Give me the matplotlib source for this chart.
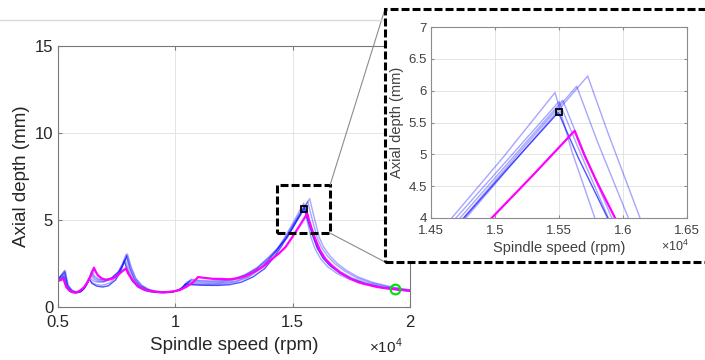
import matplotlib.pyplot as plt
from matplotlib.patches import Rectangle, ConnectionPatch
from matplotlib.lines import Line2D

plt.rcParams['font.family'] = ['Liberation Sans', 'DejaVu Sans']
plt.rcParams['mathtext.fontset'] = 'custom'
plt.rcParams['mathtext.rm'] = 'Liberation Sans'

# stability lobes, speed in rpm, depth in mm
# darker (nominal) blue curve
b0_speed = [5000, 5240, 5370, 5550, 5750, 5950, 6100, 6250, 6330, 6450, 6650, 6900, 7150, 7450, 7650,
            7820, 7960, 8150, 8400, 8700, 9000, 9400, 9800, 10100, 10300, 10430, 10700, 11200, 11800,
            12300, 12800, 13300, 13800, 14200, 14500, 14757, 15100, 15495, 15650, 15880, 16050, 16300,
            16600, 17000, 17500, 18100, 18800, 19500, 20000]
b0_depth = [1.45, 1.75, 1.12, 0.87, 0.80, 0.86, 1.05, 1.38, 1.62, 1.35, 1.20, 1.15, 1.22, 1.55, 1.98,
            2.65, 2.10, 1.52, 1.15, 0.95, 0.86, 0.82, 0.84, 0.95, 1.12, 1.32, 1.28, 1.25, 1.24,
            1.28, 1.42, 1.72, 2.20, 2.85, 3.45, 4.00, 4.78, 5.66, 4.95, 4.00, 3.38, 2.80,
            2.36, 1.96, 1.61, 1.33, 1.12, 0.99, 0.92]

b1_speed = [5000, 5270, 5400, 5550, 5750, 5950, 6100, 6250, 6350, 6500, 6700, 6950, 7250, 7550, 7750,
            7900, 8050, 8250, 8500, 8800, 9100, 9500, 9900, 10200, 10350, 10500, 10800, 11100, 11600,
            12100, 12600, 13100, 13600, 14000, 14300, 14662, 15050, 15469, 15600, 15780, 15950, 16200,
            16500, 16900, 17400, 18000, 18700, 19400, 20000]
b1_depth = [1.55, 2.08, 1.25, 0.95, 0.82, 0.88, 1.05, 1.35, 1.72, 1.50, 1.42, 1.45, 1.62, 2.00, 2.50,
            3.03, 2.25, 1.60, 1.22, 1.00, 0.88, 0.83, 0.87, 1.02, 1.20, 1.45, 1.36, 1.33, 1.33,
            1.38, 1.50, 1.75, 2.20, 2.75, 3.25, 4.00, 4.92, 5.97, 5.05, 4.00, 3.35, 2.75,
            2.30, 1.92, 1.60, 1.33, 1.13, 1.00, 0.92]

b2_speed = [5000, 5250, 5380, 5550, 5750, 5950, 6100, 6220, 6300, 6450, 6650, 6900, 7200, 7500, 7700,
            7860, 8000, 8200, 8450, 8750, 9050, 9450, 9850, 10150, 10300, 10450, 10700, 11100, 11600,
            12100, 12600, 13100, 13600, 14000, 14300, 14695, 15100, 15500, 15650, 15886, 16050, 16300,
            16600, 17000, 17500, 18100, 18800, 19500, 20000]
b2_depth = [1.50, 1.85, 1.15, 0.90, 0.83, 0.90, 1.10, 1.40, 1.65, 1.40, 1.28, 1.25, 1.38, 1.75, 2.20,
            2.75, 2.15, 1.55, 1.18, 0.98, 0.88, 0.83, 0.86, 0.98, 1.12, 1.35, 1.30, 1.27, 1.27,
            1.32, 1.45, 1.70, 2.15, 2.70, 3.20, 4.00, 4.92, 5.83, 5.10, 4.00, 3.40, 2.82,
            2.38, 1.98, 1.63, 1.35, 1.14, 1.00, 0.93]

b3_speed = [5000, 5280, 5400, 5570, 5770, 5970, 6120, 6280, 6400, 6520, 6700, 6950, 7250, 7550, 7750,
            7920, 8060, 8260, 8500, 8800, 9100, 9500, 9900, 10200, 10400, 10580, 10900, 11400, 11900,
            12400, 12900, 13400, 13900, 14300, 14727, 15130, 15529, 15680, 15912, 16080, 16350,
            16650, 17050, 17550, 18150, 18850, 19550, 20000]
b3_depth = [1.58, 1.95, 1.20, 0.92, 0.84, 0.90, 1.08, 1.45, 1.90, 1.62, 1.48, 1.45, 1.58, 1.90, 2.35,
            2.90, 2.20, 1.58, 1.20, 0.98, 0.88, 0.84, 0.87, 1.00, 1.20, 1.50, 1.42, 1.38, 1.40,
            1.52, 1.75, 2.12, 2.65, 3.20, 4.00, 4.93, 5.85, 5.10, 4.00, 3.42, 2.85,
            2.42, 2.02, 1.66, 1.38, 1.16, 1.01, 0.95]

b4_speed = [5000, 5300, 5420, 5600, 5800, 6000, 6150, 6300, 6420, 6540, 6720, 6980, 7280, 7580, 7780,
            7950, 8100, 8300, 8550, 8850, 9150, 9550, 9950, 10250, 10450, 10650, 11000, 11500, 12000,
            12500, 13000, 13500, 14000, 14350, 14752, 15200, 15638, 15800, 16042, 16220, 16500,
            16800, 17200, 17700, 18300, 19000, 19600, 20000]
b4_depth = [1.60, 2.00, 1.22, 0.93, 0.85, 0.92, 1.12, 1.50, 2.00, 1.70, 1.55, 1.52, 1.65, 2.00, 2.45,
            2.95, 2.25, 1.62, 1.23, 1.00, 0.90, 0.85, 0.89, 1.03, 1.25, 1.55, 1.48, 1.45, 1.48,
            1.60, 1.85, 2.25, 2.85, 3.35, 4.00, 5.05, 6.07, 5.20, 4.00, 3.45, 2.90,
            2.48, 2.08, 1.70, 1.40, 1.18, 1.04, 0.97]

b5_speed = [5000, 5310, 5430, 5620, 5820, 6020, 6170, 6320, 6440, 6560, 6740, 7000, 7300, 7600, 7800,
            7960, 8120, 8320, 8570, 8870, 9170, 9570, 9970, 10270, 10470, 10680, 11000, 11500, 12000,
            12500, 13000, 13500, 14000, 14380, 14773, 15250, 15724, 15880, 16133, 16320, 16600,
            16900, 17300, 17800, 18400, 19100, 19700, 20000]
b5_depth = [1.62, 2.10, 1.25, 0.95, 0.86, 0.93, 1.15, 1.55, 2.10, 1.78, 1.60, 1.56, 1.70, 2.05, 2.55,
            3.05, 2.30, 1.65, 1.25, 1.02, 0.91, 0.86, 0.90, 1.05, 1.28, 1.60, 1.53, 1.50, 1.52,
            1.63, 1.88, 2.28, 2.90, 3.40, 4.00, 5.12, 6.23, 5.35, 4.00, 3.45, 2.92,
            2.50, 2.10, 1.72, 1.42, 1.19, 1.05, 0.99]

# magenta curve
mag_speed = [5000, 5120, 5230, 5350, 5500, 5650, 5800, 5950, 6100, 6250, 6400, 6530, 6600, 6700, 6850,
             7000, 7100, 7300, 7500, 7650, 7890, 8000, 8200, 8400, 8600, 8800, 9000, 9300, 9500, 9700,
             10000, 10200, 10480, 10770, 10970, 11200, 11600, 12000, 12320, 12700, 13000, 13300,
             13740, 14000, 14450, 14700, 14974, 15300, 15622, 15700, 15800, 15938, 16150, 16400,
             16720, 17000, 17430, 17800, 18140, 18600, 19000, 19340, 19700, 20000]
mag_depth = [1.50, 1.55, 1.62, 1.15, 0.92, 0.84, 0.85, 0.95, 1.12, 1.40, 1.80, 2.26, 2.05, 1.82, 1.65,
             1.58, 1.57, 1.63, 1.78, 1.95, 2.22, 1.90, 1.50, 1.22, 1.05, 0.95, 0.90, 0.86, 0.85, 0.86,
             0.92, 0.98, 1.17, 1.43, 1.72, 1.68, 1.62, 1.61, 1.59, 1.66, 1.78, 1.98,
             2.32, 2.62, 3.12, 3.45, 4.00, 4.68, 5.37, 4.98, 4.55, 4.00, 3.30, 2.75,
             2.32, 2.00, 1.65, 1.42, 1.30, 1.15, 1.07, 1.02, 0.97, 0.93]

blue_light = [(b1_speed, b1_depth), (b2_speed, b2_depth), (b3_speed, b3_depth),
              (b4_speed, b4_depth), (b5_speed, b5_depth)]

square_speed = [15500]
square_depth = [5.66]
circle_speed = [19340]
circle_depth = [1.02]

zoom_speed = [1.433, 1.660]   # x 1e4 rpm
zoom_depth = [4.24, 7.03]


def draw_curves(a, lw_blue, lw_mag):
    for sp, d in blue_light:
        a.plot([s / 1e4 for s in sp], d, color='#0000ff', alpha=0.35, lw=lw_blue)
    a.plot([s / 1e4 for s in b0_speed], b0_depth, color='#1a1aff', alpha=0.75, lw=lw_blue)
    a.plot([s / 1e4 for s in mag_speed], mag_depth, color='#ff00ff', lw=lw_mag)


fig = plt.figure(figsize=(7.05, 3.6), dpi=100)

# faint rule at top of the page
fig.add_artist(Line2D([0, 385 / 705], [1 - 20 / 360, 1 - 20 / 360], color='#d9d9d9', lw=1.0,
                      transform=fig.transFigure))

ax = fig.add_axes([58 / 705, 1 - 307 / 360, 352 / 705, 261 / 360])
draw_curves(ax, 1.0, 1.6)
ax.plot([s / 1e4 for s in circle_speed], circle_depth, 'o', mfc='none', mec='#00e000', ms=7, mew=1.5)
ax.plot([s / 1e4 for s in square_speed], square_depth, 's', mfc='none', mec='k', ms=5, mew=1.3)
ax.set_xlim(0.5, 2.0)
ax.set_ylim(0, 15)
ax.set_xticks([0.5, 1, 1.5, 2])
ax.set_xticklabels(['0.5', '1', '1.5', '2'])
ax.set_yticks([0, 5, 10, 15])
ax.grid(True, color='#e4e4e4', lw=0.7)
ax.tick_params(direction='in', top=True, right=True, length=3, color='#7a7a7a',
               labelcolor='#262626', labelsize=12)
ax.tick_params(axis='x', pad=6)
for s in ax.spines.values():
    s.set_color('#7a7a7a')
    s.set_linewidth(0.8)
ax.set_xlabel('Spindle speed (rpm)', fontsize=13.5, color='#262626', labelpad=5)
ax.set_ylabel('Axial depth (mm)', fontsize=13.5, color='#262626', labelpad=3)
fig.text(386 / 705, 1 - 346 / 360, r'$\times10^{4}$', fontsize=11, color='#262626',
         ha='center', va='center')

ax.add_patch(Rectangle((zoom_speed[0], zoom_depth[0]), zoom_speed[1] - zoom_speed[0],
                       zoom_depth[1] - zoom_depth[0], fill=False, ec='k', lw=2.2,
                       ls=(0, (2.6, 1.0)), zorder=5, clip_on=False))

# inset frame
box_x0, box_y0 = 385 / 705, 1 - 262 / 360
box_y1 = 1 - 9 / 360
fig.add_artist(Rectangle((box_x0, box_y0), 0.5, box_y1 - box_y0, transform=fig.transFigure,
                         fc='white', ec='k', lw=2.2, ls=(0, (2.6, 1.0)), zorder=2))
for yd, yf in [(zoom_depth[1], box_y1), (zoom_depth[0], box_y0)]:
    fig.add_artist(ConnectionPatch(xyA=(zoom_speed[1], yd), coordsA=ax.transData,
                                   xyB=(box_x0, yf), coordsB=fig.transFigure,
                                   color='#8c8c8c', lw=0.8, zorder=1.5))

ax2 = fig.add_axes([431 / 705, 1 - 218 / 360, 256 / 705, 191 / 360])
ax2.set_zorder(3)
draw_curves(ax2, 1.0, 1.6)
ax2.plot([s / 1e4 for s in square_speed], square_depth, 's', mfc='none', mec='k', ms=5, mew=1.3)
ax2.set_xlim(1.45, 1.65)
ax2.set_ylim(4, 7)
ax2.set_xticks([1.45, 1.5, 1.55, 1.6, 1.65])
ax2.set_xticklabels(['1.45', '1.5', '1.55', '1.6', '1.65'])
ax2.set_yticks([4, 4.5, 5, 5.5, 6, 6.5, 7])
ax2.set_yticklabels(['4', '4.5', '5', '5.5', '6', '6.5', '7'])
ax2.grid(True, color='#e4e4e4', lw=0.7)
ax2.tick_params(direction='in', top=True, right=True, length=2.5, color='#8c8c8c',
                labelcolor='#404040', labelsize=9.5, pad=3)
ax2.tick_params(axis='x', pad=5)
for s in ax2.spines.values():
    s.set_color('#8c8c8c')
    s.set_linewidth(0.8)
ax2.set_xlabel('Spindle speed (rpm)', fontsize=10.5, color='#404040', labelpad=3)
ax2.set_ylabel('Axial depth (mm)', fontsize=10.5, color='#404040', labelpad=3)
fig.text(675 / 705, 1 - 246 / 360, r'$\times10^{4}$', fontsize=9, color='#404040',
         ha='center', va='center', zorder=4)

fig.savefig('out.png', dpi=100)
